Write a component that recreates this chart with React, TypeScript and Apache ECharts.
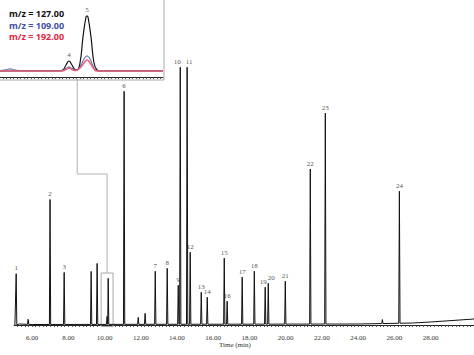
import React, { useEffect, useRef } from "react";
import * as echarts from "echarts";

// Main chromatogram peaks: [retention time (min), height]
const peakTimes = [5.12, 5.78, 6.99, 7.77, 9.26, 9.59, 10.14, 10.2, 11.08, 11.86, 12.24, 12.8, 13.46, 14.07, 14.18, 14.56, 14.73, 15.34, 15.67, 16.61, 16.77, 17.6, 18.27, 18.87, 19.04, 19.98, 21.36, 22.19, 25.34, 26.28];
const peakHeights = [51, 5, 125, 52, 53, 61, 8, 46, 233, 7, 11, 53, 56, 39, 257, 257, 72, 32, 27, 66, 23, 47, 53, 37, 41, 43, 155, 211, 4, 132];
const peakNames = ["1", "", "2", "3", "", "", "", "", "6", "", "", "7", "8", "9", "10", "11", "12", "13", "14", "15", "16", "17", "18", "19", "20", "21", "22", "23", "", "24"];

// Baseline drift knots: [time, level]
const baselineKnots: [number, number][] = [[5.05, 0], [5.3, 1], [6.0, 0.5], [24.0, 1], [27.0, 2], [28.0, 3], [30.4, 6]];

const xTickLabels = [6, 8, 10, 12, 14, 16, 18, 20, 22, 24, 26, 28];

// Inset traces (pixel-like units): [x, level]
const insetBlack: [number, number][] = [[0, 6], [60, 6], [63, 7], [66, 12], [69, 16], [72, 12], [75, 7.5], [77, 7], [80, 14], [83, 40], [86, 60], [87, 61], [88, 60], [91, 40], [94, 14], [97, 7], [100, 6], [163, 6]];
const insetBlue: [number, number][] = [[0, 6.5], [5, 7], [10, 8], [15, 7], [20, 6.5], [60, 6.5], [65, 8], [69, 10], [73, 8], [77, 7], [81, 12], [84, 18], [87, 21], [90, 18], [93, 11], [96, 7], [100, 6.5], [163, 6.5]];
const insetRed: [number, number][] = [[0, 6], [62, 6], [66, 7.5], [69, 9], [72, 7.5], [76, 6.5], [80, 9], [84, 14], [87, 17], [90, 14], [94, 8], [97, 6], [163, 6]];
const insetLabels: [number, number, string][] = [[69, 16, "4"], [87, 61, "5"]];
const legendItems = ["m/z = 127.00", "m/z = 109.00", "m/z = 192.00"];
const legendColors = ["#111111", "#3d4f9e", "#e3243f"];

// Zoom box and connector (data coords of the main chart)
const zoomBox: [number, number, number, number] = [9.81, -1.5, 10.47, 52];
const connector: [number, number][] = [[8.49, 246], [8.49, 151], [10.14, 151], [10.14, 52]];

// Horizontal nudges for crowded peak labels
const labelNudge: Record<string, number> = { "10": -3, "11": 2, "19": -2, "20": 3 };

function baseAt(t: number): number {
  for (let i = 1; i < baselineKnots.length; i++) {
    const [t1, v1] = baselineKnots[i];
    const [t0, v0] = baselineKnots[i - 1];
    if (t <= t1) return v0 + ((v1 - v0) * (t - t0)) / (t1 - t0);
  }
  return baselineKnots[baselineKnots.length - 1][1];
}

const serif = "Liberation Serif";
const peakLabelStyle = {
  show: true,
  position: "top",
  distance: 2,
  formatter: (p: any) => `{a|${p.name}}`,
  rich: { a: { fontFamily: serif, fontSize: 7, color: "#222222" } },
};

export default function App() {
  const ref = useRef<HTMLDivElement>(null);
  useEffect(() => {
    if (!ref.current) return;
    const chart = echarts.init(ref.current, null, { renderer: "svg" });

    const pts: [number, number][] = [];
    const events: { t: number; v: number; peak: boolean }[] = [];
    baselineKnots.forEach(([t, v]) => events.push({ t, v, peak: false }));
    peakTimes.forEach((t, i) => events.push({ t, v: peakHeights[i], peak: true }));
    events.sort((a, b) => a.t - b.t);
    events.forEach((e) => {
      if (e.peak) {
        const b = baseAt(e.t);
        pts.push([e.t - 0.035, b]);
        pts.push([e.t, b + e.v]);
        pts.push([e.t + 0.035, b]);
      } else {
        pts.push([e.t, e.v]);
      }
    });

    const labelData = peakTimes
      .map((t, i) => ({
        value: [t, baseAt(t) + peakHeights[i]],
        name: peakNames[i],
        label: { offset: [labelNudge[peakNames[i]] || 0, 0] },
      }))
      .filter((d) => d.name !== "");

    const minorTicks: number[] = [];
    for (let v = 5.2; v < 30.4; v += 0.2) minorTicks.push(Math.round(v * 10) / 10);
    const insetTicks: number[] = [];
    for (let v = 3; v < 163; v += 3.5) insetTicks.push(v);

    chart.setOption({
      animation: false,
      backgroundColor: "#ffffff",
      color: ["#222222"],
      grid: [
        { left: 14, right: 0, top: 55, bottom: 25 },
        { left: 0, top: 2, width: 163, height: 75 },
      ],
      xAxis: [
        {
          type: "value",
          gridIndex: 0,
          min: 5.0,
          max: 30.4,
          splitLine: { show: false },
          axisLine: { lineStyle: { color: "#222", width: 1 } },
          axisTick: { customValues: minorTicks, length: 2, lineStyle: { color: "#333", width: 0.8 } },
          axisLabel: {
            customValues: xTickLabels,
            formatter: (v: number) => v.toFixed(2),
            fontFamily: serif,
            fontSize: 7,
            color: "#333",
            margin: 4,
          },
        },
        {
          type: "value",
          gridIndex: 1,
          min: 0,
          max: 163,
          splitLine: { show: false },
          axisLine: { lineStyle: { color: "#222", width: 1 } },
          axisTick: { customValues: insetTicks, length: 2, lineStyle: { color: "#333", width: 0.8 } },
          axisLabel: { show: false },
        },
      ],
      yAxis: [
        { type: "value", gridIndex: 0, min: -5, max: 270, show: false },
        { type: "value", gridIndex: 1, min: 0, max: 75, show: false },
      ],
      graphic: [
        {
          type: "rect",
          z: 1,
          silent: true,
          shape: { x: -1, y: -1, width: 165, height: 81 },
          style: { fill: "none", stroke: "#a8a8a8", lineWidth: 1 },
        },
        ...legendItems.map((txt, i) => ({
          type: "text",
          z: 10,
          left: 9,
          top: 9 + i * 11.5,
          style: {
            text: txt,
            fill: legendColors[i],
            font: "bold 9px 'Noto Sans'",
          },
        })),
        {
          type: "text",
          z: 10,
          left: 219,
          top: 341,
          style: { text: "Time (min)", fill: "#333", font: `7px '${serif}'` },
        },
      ],
      series: [
        {
          type: "line",
          xAxisIndex: 0,
          yAxisIndex: 0,
          data: connector,
          symbol: "none",
          silent: true,
          z: 1,
          lineStyle: { color: "#b0b0b0", width: 1 },
          markArea: {
            silent: true,
            itemStyle: { color: "rgba(0,0,0,0)", borderColor: "#a8a8a8", borderWidth: 1 },
            data: [[{ coord: [zoomBox[0], zoomBox[1]] }, { coord: [zoomBox[2], zoomBox[3]] }]],
          },
        },
        {
          type: "line",
          xAxisIndex: 0,
          yAxisIndex: 0,
          data: pts,
          symbol: "none",
          clip: false,
          z: 2,
          lineStyle: { color: "#111", width: 1 },
        },
        {
          type: "scatter",
          xAxisIndex: 0,
          yAxisIndex: 0,
          data: labelData,
          symbolSize: 0,
          z: 3,
          colorBy: "series",
          itemStyle: { color: "#222" },
          label: peakLabelStyle,
        },
        {
          type: "line",
          xAxisIndex: 1,
          yAxisIndex: 1,
          data: insetBlack,
          smooth: true,
          symbol: "none",
          z: 4,
          lineStyle: { color: "#111", width: 1.2 },
        },
        {
          type: "line",
          xAxisIndex: 1,
          yAxisIndex: 1,
          data: insetBlue,
          smooth: true,
          symbol: "none",
          z: 5,
          lineStyle: { color: "#3d4f9e", width: 1 },
        },
        {
          type: "line",
          xAxisIndex: 1,
          yAxisIndex: 1,
          data: insetRed,
          smooth: true,
          symbol: "none",
          z: 6,
          lineStyle: { color: "#e8627a", width: 1.6 },
        },
        {
          type: "scatter",
          xAxisIndex: 1,
          yAxisIndex: 1,
          data: insetLabels.map(([x, y, n]) => ({ value: [x, y], name: n })),
          symbolSize: 0,
          z: 7,
          colorBy: "series",
          itemStyle: { color: "#222" },
          label: { ...peakLabelStyle, distance: 3 },
        },
      ],
    });
    return () => chart.dispose();
  }, []);
  return <div ref={ref} style={{ width: 474, height: 355, position: "absolute", left: 0, top: 0 }} />;
}
